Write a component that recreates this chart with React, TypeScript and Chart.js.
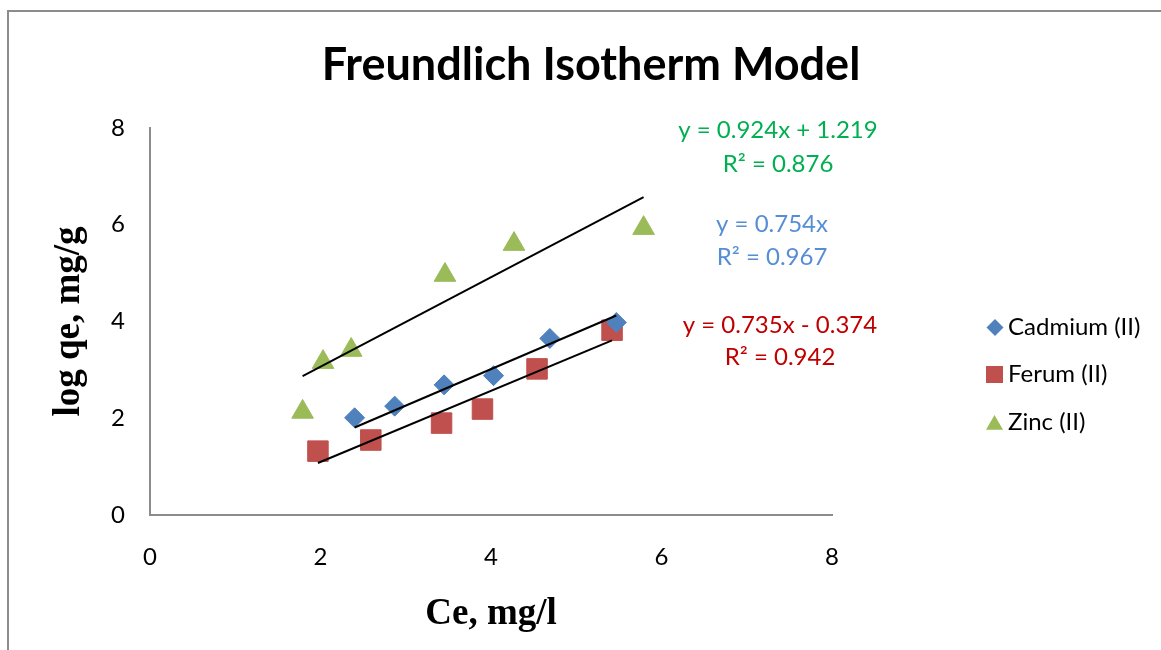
import React, { useEffect, useRef } from 'react';
import { Chart, registerables } from 'chart.js';

Chart.register(...registerables);

const chartTitle = 'Freundlich Isotherm Model';
const xAxisTitle = 'Ce, mg/l';
const yAxisTitle = 'log qe, mg/g';
const seriesNames = ['Cadmium (II)', 'Ferum (II)', 'Zinc (II)'];
const seriesColors = ['#4F81BD', '#C0504D', '#9BBB59'];

const cadmiumX = [2.4, 2.87, 3.45, 4.03, 4.69, 5.47];
const cadmiumY = [2.01, 2.25, 2.69, 2.88, 3.65, 3.98];
const ferumX = [1.97, 2.59, 3.42, 3.9, 4.54, 5.42];
const ferumY = [1.32, 1.55, 1.9, 2.19, 3.02, 3.82];
const zincX = [1.79, 2.03, 2.36, 3.46, 4.27, 5.79];
const zincY = [2.13, 3.16, 3.41, 4.96, 5.6, 5.93];

const fitSlopes = [0.754, 0.735, 0.924];
const fitIntercepts = [0, -0.374, 1.219];
const fitEquations = ['y = 0.754x', 'y = 0.735x - 0.374', 'y = 0.924x + 1.219'];
const fitR2 = ['R² = 0.967', 'R² = 0.942', 'R² = 0.876'];
const fitLabelColors = ['#558ED5', '#C00000', '#00B050'];

const xMin = 0, xMax = 8, xStep = 2;
const yMin = 0, yMax = 8, yStep = 2;

const SANS = 'Lato, "Open Sans", sans-serif';
const SERIF = '"Liberation Serif", "Times New Roman", serif';

function pts(xs: number[], ys: number[]) {
  return xs.map((x, i) => ({ x, y: ys[i] }));
}
function fitLine(xs: number[], k: number) {
  const lo = Math.min(...xs);
  const hi = Math.max(...xs);
  return [
    { x: lo, y: fitSlopes[k] * lo + fitIntercepts[k] },
    { x: hi, y: fitSlopes[k] * hi + fitIntercepts[k] },
  ];
}

function drawMarker(ctx: CanvasRenderingContext2D, kind: number, cx: number, cy: number, r: number) {
  ctx.beginPath();
  if (kind === 0) {
    ctx.moveTo(cx, cy - r);
    ctx.lineTo(cx + r, cy);
    ctx.lineTo(cx, cy + r);
    ctx.lineTo(cx - r, cy);
  } else if (kind === 1) {
    ctx.rect(cx - r, cy - r, 2 * r, 2 * r);
  } else {
    const s = r * Math.sin(Math.PI / 3);
    ctx.moveTo(cx, cy - r);
    ctx.lineTo(cx + s, cy + r / 2);
    ctx.lineTo(cx - s, cy + r / 2);
  }
  ctx.closePath();
  ctx.fill();
}

const overlay = {
  id: 'overlay',
  beforeDraw(chart: any) {
    const ctx = chart.ctx as CanvasRenderingContext2D;
    ctx.save();
    ctx.fillStyle = '#ffffff';
    ctx.fillRect(0, 0, chart.width, chart.height);
    ctx.fillStyle = '#8c8c8c';
    ctx.fillRect(7, 10, 2, chart.height - 10);
    ctx.fillRect(7, 10, chart.width - 7, 2);
    ctx.restore();
  },
  afterDraw(chart: any) {
    const ctx = chart.ctx as CanvasRenderingContext2D;
    ctx.save();
    // title
    ctx.fillStyle = '#000';
    ctx.font = `bold 45px ${SANS}`;
    ctx.textAlign = 'center';
    ctx.textBaseline = 'alphabetic';
    ctx.fillText(chartTitle, 591, 80);

    // trendline labels
    const eqPos = [
      { x: 772, y1: 232, y2: 265 },
      { x: 780, y1: 333, y2: 365 },
      { x: 778, y1: 138, y2: 172 },
    ];
    ctx.font = `24px ${SANS}`;
    eqPos.forEach((p, i) => {
      ctx.fillStyle = fitLabelColors[i];
      ctx.fillText(fitEquations[i], p.x, p.y1);
      ctx.fillText(fitR2[i], p.x, p.y2);
    });

    // legend
    const legendMarkers = [
      { cx: 995, cy: 327.5, r: 8.5 },
      { cx: 994.5, cy: 374.5, r: 8.5 },
      { cx: 994.5, cy: 424.8, r: 9.8 },
    ];
    const legendBaselines = [335, 382, 430];
    ctx.textAlign = 'left';
    seriesNames.forEach((name, i) => {
      ctx.fillStyle = seriesColors[i];
      const m = legendMarkers[i];
      drawMarker(ctx, i, m.cx, m.cy, m.r);
      ctx.fillStyle = '#000';
      ctx.fillText(name, 1008, legendBaselines[i]);
    });
    ctx.restore();
  },
};

export default function App() {
  const canvasRef = useRef<HTMLCanvasElement | null>(null);

  useEffect(() => {
    document.body.style.margin = '0';
    const canvas = canvasRef.current;
    if (!canvas) return;
    const scatterDefaults = { showLine: false, borderWidth: 1, order: 1 };
    const lineDefaults = {
      showLine: true,
      borderColor: '#000',
      backgroundColor: '#000',
      borderWidth: 2,
      pointRadius: 0,
      order: 0,
    };
    const chart = new Chart(canvas, {
      type: 'scatter',
      data: {
        datasets: [
          {
            ...scatterDefaults,
            label: seriesNames[0],
            data: pts(cadmiumX, cadmiumY),
            pointStyle: 'rectRot',
            pointRadius: 10,
            backgroundColor: seriesColors[0],
            borderColor: seriesColors[0],
          },
          {
            ...scatterDefaults,
            label: seriesNames[1],
            data: pts(ferumX, ferumY),
            pointStyle: 'rect',
            pointRadius: 14.5,
            backgroundColor: seriesColors[1],
            borderColor: seriesColors[1],
          },
          {
            ...scatterDefaults,
            label: seriesNames[2],
            data: pts(zincX, zincY),
            pointStyle: 'triangle',
            pointRadius: 12.5,
            backgroundColor: seriesColors[2],
            borderColor: seriesColors[2],
          },
          { ...lineDefaults, label: 'fit0', data: fitLine(cadmiumX, 0) },
          { ...lineDefaults, label: 'fit1', data: fitLine(ferumX, 1) },
          { ...lineDefaults, label: 'fit2', data: fitLine(zincX, 2) },
        ] as any,
      },
      options: {
        responsive: false,
        animation: false,
        events: [],
        layout: { padding: { left: 47, right: 329, top: 128, bottom: 0 } },
        plugins: {
          legend: { display: false },
          title: { display: false },
          tooltip: { enabled: false },
        },
        scales: {
          x: {
            type: 'linear',
            min: xMin,
            max: xMax,
            ticks: { stepSize: xStep, padding: 28, color: '#000', font: { family: SANS, size: 24 } },
            grid: { display: true, drawOnChartArea: false, drawTicks: false },
            border: { display: true, color: '#8c8c8c', width: 2 },
            title: {
              display: true,
              text: xAxisTitle,
              color: '#000',
              font: { family: SERIF, size: 37, weight: 'bold', lineHeight: 1.2 },
              padding: { top: 0, bottom: 13 },
            },
            afterFit(s: any) {
              s.height = 135;
            },
          },
          y: {
            type: 'linear',
            min: yMin,
            max: yMax,
            ticks: { stepSize: yStep, padding: 25, color: '#000', font: { family: SANS, size: 24 } },
            grid: { display: true, drawOnChartArea: false, drawTicks: false },
            border: { display: true, color: '#8c8c8c', width: 2 },
            title: {
              display: true,
              text: yAxisTitle,
              color: '#000',
              font: { family: SERIF, size: 37, weight: 'bold', lineHeight: 1.2 },
              padding: { top: 0, bottom: 0 },
            },
            afterFit(s: any) {
              s.width = 103;
            },
          },
        },
      } as any,
      plugins: [overlay],
    });
    return () => chart.destroy();
  }, []);

  return (
    <canvas
      ref={canvasRef}
      width={1161}
      height={650}
      style={{ display: 'block', width: 1161, height: 650 }}
    />
  );
}
